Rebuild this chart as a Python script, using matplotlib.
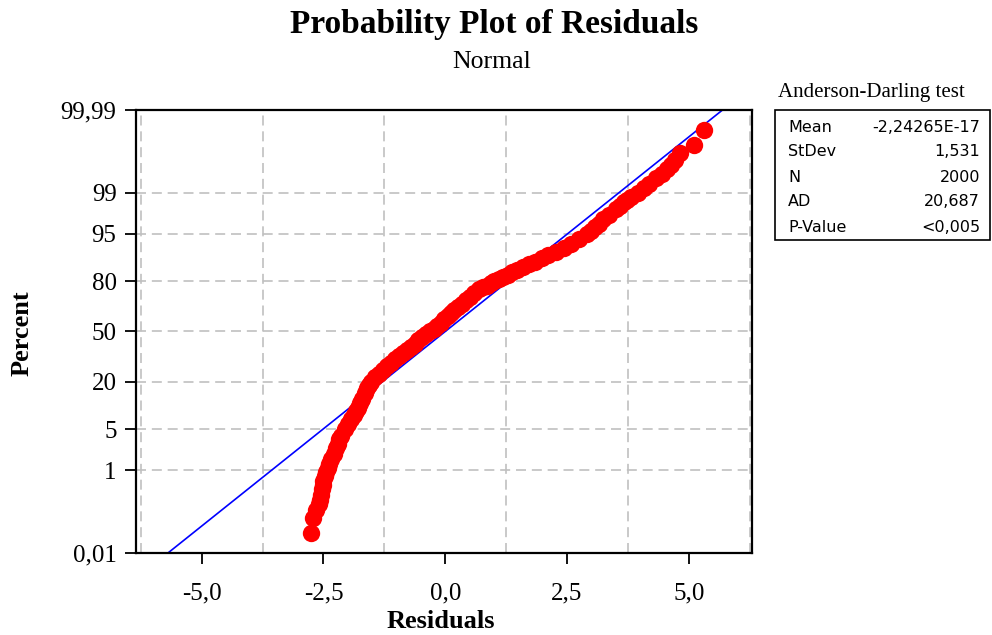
import numpy as np
import matplotlib
matplotlib.use("Agg")
import matplotlib.pyplot as plt
from matplotlib.patches import Rectangle
from statistics import NormalDist

# plotting position (%) and residual
percent = [0.035, 0.085, 0.135, 0.185, 0.235, 0.3, 0.4, 0.5, 0.6, 0.75,
           0.9, 1.1, 1.3, 1.6, 2, 2.5, 3, 3.5, 4, 5,
           6, 7, 8, 9, 10, 11.5, 13, 15, 17, 18.5,
           20, 22, 24, 26, 28, 30, 32, 34, 36, 38,
           40, 42, 44, 46, 48, 50, 52, 54, 56, 58,
           60, 62, 64, 66, 68, 70, 72, 74, 76, 77,
           78, 79, 80, 81, 82, 83, 84, 85, 86, 87,
           88, 89, 90, 91, 92, 93, 94, 95, 95.5, 96,
           96.5, 97, 97.5, 98, 98.25, 98.5, 98.65, 98.8, 99, 99.2,
           99.35, 99.5, 99.6, 99.68, 99.74, 99.8, 99.865, 99.915, 99.965]
residual = [-2.76, -2.72, -2.66, -2.60, -2.58, -2.56, -2.54, -2.51, -2.50, -2.47,
            -2.44, -2.41, -2.39, -2.34, -2.29, -2.24, -2.21, -2.18, -2.14, -2.06,
            -1.99, -1.93, -1.87, -1.83, -1.79, -1.74, -1.70, -1.64, -1.60, -1.57,
            -1.53, -1.44, -1.35, -1.27, -1.20, -1.12, -1.04, -0.95, -0.87, -0.79,
            -0.71, -0.63, -0.55, -0.47, -0.39, -0.31, -0.24, -0.16, -0.09, -0.02,
            0.05, 0.12, 0.19, 0.27, 0.35, 0.43, 0.51, 0.60, 0.70, 0.77,
            0.85, 0.93, 1.01, 1.10, 1.19, 1.28, 1.38, 1.48, 1.60, 1.72,
            1.84, 1.98, 2.12, 2.28, 2.43, 2.58, 2.74, 2.91, 2.99, 3.07,
            3.15, 3.25, 3.36, 3.50, 3.58, 3.67, 3.74, 3.82, 3.95, 4.08,
            4.19, 4.33, 4.45, 4.55, 4.63, 4.71, 4.82, 5.10, 5.32]

mean = -2.24265e-17
stdev = 1.531

y_ticks = [0.01, 1, 5, 20, 50, 80, 95, 99, 99.99]
y_labels = ["0,01", "1", "5", "20", "50", "80", "95", "99", "99,99"]
y_grid = [1, 5, 20, 50, 80, 95, 99]
x_ticks = [-5, -2.5, 0, 2.5, 5]
x_labels = ["-5,0", "-2,5", "0,0", "2,5", "5,0"]
x_grid = [-6.25, -3.75, -1.25, 1.25, 3.75, 6.25]

stat_names = ["Mean", "StDev", "N", "AD", "P-Value"]
stat_values = ["-2,24265E-17", "1,531", "2000", "20,687", "<0,005"]

plt.rcParams["font.family"] = "Liberation Serif"

nd = NormalDist()
_inv = np.vectorize(lambda p: nd.inv_cdf(min(max(p / 100.0, 1e-9), 1 - 1e-9)), otypes=[float])
_cdf = np.vectorize(lambda z: 100.0 * nd.cdf(z), otypes=[float])


def prob_fwd(y):
    return _inv(np.asarray(y, dtype=float))


def prob_inv(z):
    return _cdf(np.asarray(z, dtype=float))


W, H = 992, 635
fig = plt.figure(figsize=(W / 100, H / 100), dpi=100)
ax = fig.add_axes([136 / W, 1 - 553 / H, (752 - 136) / W, (553 - 110) / H])
ax.set_yscale("function", functions=(prob_fwd, prob_inv))

for gx in x_grid:
    ax.axvline(gx, color="#c0c0c0", lw=1.2, ls=(0, (6, 3.5)), zorder=0)
for gy in y_grid:
    ax.axhline(gy, color="#c0c0c0", lw=1.2, ls=(0, (6, 3.5)), zorder=0)

# fitted normal line from the reported mean / stdev
p_line = [0.01, 99.99]
x_line = [mean + stdev * nd.inv_cdf(p / 100) for p in p_line]
ax.plot(x_line, p_line, color="#0000ff", lw=1.2, zorder=2)

ax.plot(residual, percent, "o", color="#ff0000", ms=12.5, mec="#ff0000",
        mew=0, zorder=3)

ax.set_xlim(-6.35, 6.3)
ax.set_ylim(0.01, 99.99)
ax.set_xticks(x_ticks)
ax.set_xticklabels(x_labels)
ax.set_yticks(y_ticks)
ax.set_yticklabels(y_labels)
ax.minorticks_off()
ax.tick_params(direction="out", length=8, width=1.3, labelsize=18, color="black")
ax.tick_params(axis="x", pad=13)
ax.tick_params(axis="y", pad=6)
for sp in ax.spines.values():
    sp.set_linewidth(1.6)

fig.text(494 / W, 1 - 25 / H, "Probability Plot of Residuals", ha="center", va="center",
         fontsize=24, fontweight="bold")
fig.text(492 / W, 1 - 62 / H, "Normal", ha="center", va="center", fontsize=18.5)
fig.text(441 / W, 1 - 622 / H, "Residuals", ha="center", va="center",
         fontsize=19, fontweight="bold")
fig.text(22 / W, 1 - 333 / H, "Percent", ha="center", va="center", rotation=90,
         fontsize=19, fontweight="bold")

# Anderson-Darling box
fig.text(871 / W, 1 - 93 / H, "Anderson-Darling test", ha="center", va="center", fontsize=15)
fig.add_artist(Rectangle((775 / W, 1 - 240 / H), (990 - 775) / W, 130 / H,
                         transform=fig.transFigure, fill=False, lw=1.2, ec="black"))
for i, (nm, val) in enumerate(zip(stat_names, stat_values)):
    yy = 1 - (127 + 25 * i) / H
    fig.text(788 / W, yy, nm, ha="left", va="center", fontsize=11.5, family="DejaVu Sans")
    fig.text(980 / W, yy, val, ha="right", va="center", fontsize=11.5, family="DejaVu Sans")

fig.savefig("out.png", dpi=100)
